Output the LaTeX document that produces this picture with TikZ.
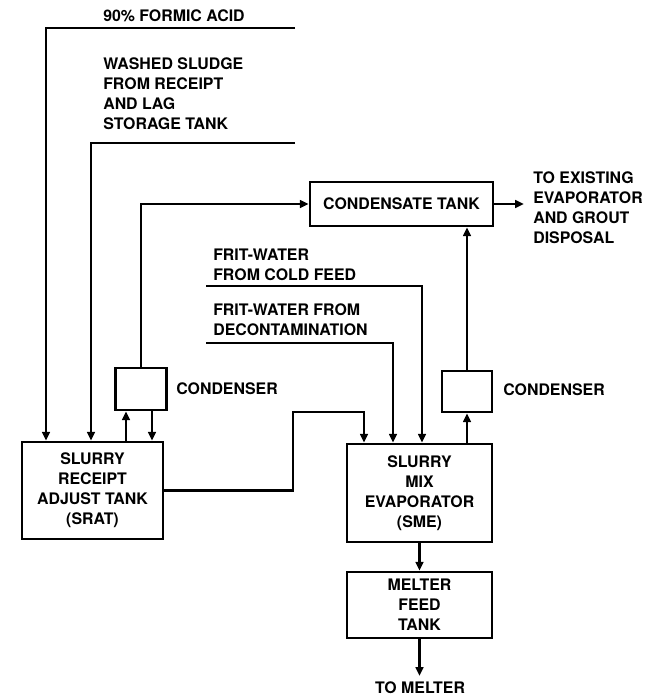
\documentclass[tikz,border=0pt]{standalone}
\usepackage{fontspec}
\setsansfont{TeX Gyre Heros}
\usetikzlibrary{arrows.meta,positioning}
\tikzset{
  unit/.style={
    draw,
    line width=1.8pt,
    align=center,
    inner sep=0pt
  },
  flow/.style={
    line width=2pt,
    -{Triangle[length=2.2mm,width=1.9mm]}
  },
  tag/.style={
    align=left,
    inner sep=0pt
  },
  every picture/.style={
    font=\sffamily\bfseries\fontsize{11.3}{14.2}\selectfont
  }
}

\begin{document}
\begin{tikzpicture}[x=0.025cm,y=-0.025cm]
  \useasboundingbox (0,0) rectangle (656,696);
  \node[unit,minimum width=3.525cm,minimum height=2.425cm] (srat) at (92.5,490.5) {SLURRY\\RECEIPT\\ADJUST TANK\\(SRAT)};
  \node[unit,minimum width=3.625cm,minimum height=2.45cm] (sme) at (419.5,493) {SLURRY\\MIX\\EVAPORATOR\\(SME)};
  \node[unit,minimum width=3.625cm,minimum height=1.65cm] (mft) at (419.5,605) {MELTER\\FEED\\TANK};
  \node[unit,minimum width=4.575cm,minimum height=1.1cm] (ctank) at (401.5,204) {CONDENSATE TANK};
  \node[unit,minimum width=1.275cm,minimum height=1.05cm] (cond1) at (141,389) {};
  \node[unit,minimum width=1.25cm,minimum height=1.025cm] (cond2) at (467,391.5) {};

  \node[tag,anchor=west] (formic) at (103,16) {90\% FORMIC ACID};
  \node[tag,anchor=north west] (sludge) at (103,57.5) {WASHED SLUDGE\\FROM RECEIPT\\AND LAG\\STORAGE TANK};
  \node[tag,anchor=north west] (export) at (533,171.5) {TO EXISTING\\EVAPORATOR\\AND GROUT\\DISPOSAL};
  \node[tag,anchor=north west] (coldfeed) at (213,248.5) {FRIT-WATER\\FROM COLD FEED};
  \node[tag,anchor=north west] (decon) at (213,303.5) {FRIT-WATER FROM\\DECONTAMINATION};
  \node[tag,anchor=west] (cond1lab) at (176,389) {CONDENSER};
  \node[tag,anchor=west] (cond2lab) at (503,390) {CONDENSER};
  \node[tag] (melter) at (420,688) {TO MELTER};

  \coordinate (formicin) at (295,28);
  \coordinate (formicturn) at (46,28);
  \coordinate (sludgein) at (295,143);
  \coordinate (sludgeturn) at (91,143);
  \coordinate (coldin) at (206,286);
  \coordinate (coldturn) at (422,286);
  \coordinate (deconin) at (206,343);
  \coordinate (deconturn) at (393,343);
  \coordinate (sratup) at (293,412);
  \coordinate (smein) at (364,412);
  \coordinate (vapour1) at (126,0);
  \coordinate (reflux1) at (152,0);
  \coordinate (exportend) at (524,204);
  \coordinate (melterend) at (419.5,676);

  \draw[flow] (formicin) -- (formicturn) -- (formicturn |- srat.north);
  \draw[flow] (sludgein) -- (sludgeturn) -- (sludgeturn |- srat.north);
  \draw[flow] (coldin) -- (coldturn) -- (coldturn |- sme.north);
  \draw[flow] (deconin) -- (deconturn) -- (deconturn |- sme.north);
  \draw[flow] (srat.east) -| (sratup) -- (smein) -- (smein |- sme.north);
  \draw[flow] (vapour1 |- srat.north) -- (vapour1 |- cond1.south);
  \draw[flow] (reflux1 |- cond1.south) -- (reflux1 |- srat.north);
  \draw[flow] (cond1.north) |- (ctank.west);
  \draw[flow] (sme.north -| cond2.south) -- (cond2.south);
  \draw[flow] (cond2.north) -- (ctank.south -| cond2.north);
  \draw[flow] (ctank.east) -- (exportend);
  \draw[flow] (sme.south) -- (mft.north);
  \draw[flow] (mft.south) -- (melterend);
\end{tikzpicture}
\end{document}
